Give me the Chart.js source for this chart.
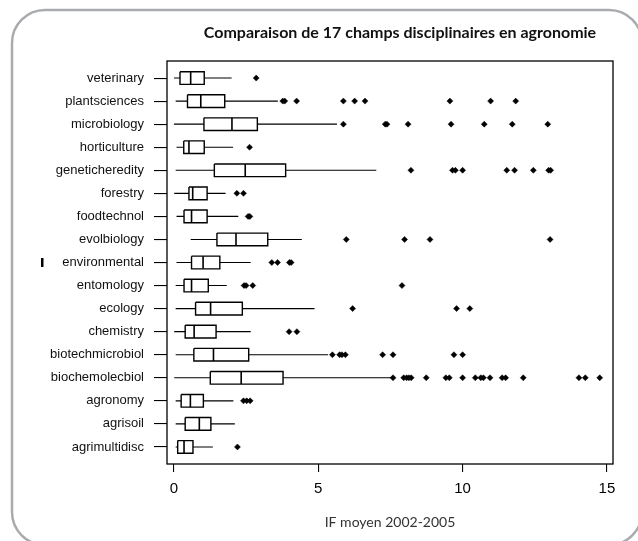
<!DOCTYPE html>
<html>
<head>
<meta charset="utf-8">
<script src="https://cdn.jsdelivr.net/npm/chart.js@4/dist/chart.umd.min.js"></script>
<style>
html,body{margin:0;padding:0;background:#fff;}
#wrap{position:relative;width:638px;height:541px;}
</style>
</head>
<body>
<div id="wrap"><canvas id="c" width="638" height="541"></canvas></div>
<script>
// ---- data ----
const categories = ['veterinary','plantsciences','microbiology','horticulture','geneticheredity','forestry','foodtechnol','evolbiology','environmental','entomology','ecology','chemistry','biotechmicrobiol','biochemolecbiol','agronomy','agrisoil','agrimultidisc'];
const whiskerLow  = [0.00, 0.06, 0.00, 0.09, 0.06, 0.01, 0.09, 0.58, 0.09, 0.06, 0.06, 0.01, 0.06, 0.01, 0.06, 0.06, 0.06];
const q1          = [0.21, 0.47, 1.04, 0.34, 1.40, 0.52, 0.35, 1.49, 0.61, 0.35, 0.75, 0.39, 0.69, 1.26, 0.25, 0.39, 0.13];
const median      = [0.58, 0.93, 2.01, 0.52, 2.47, 0.65, 0.61, 2.15, 1.01, 0.61, 1.27, 0.70, 1.37, 2.33, 0.57, 0.88, 0.35];
const q3          = [1.05, 1.76, 2.89, 1.05, 3.87, 1.15, 1.15, 3.25, 1.59, 1.19, 2.37, 1.46, 2.59, 3.78, 1.02, 1.28, 0.66];
const whiskerHigh = [2.00, 3.60, 5.65, 2.05, 7.01, 1.79, 2.23, 4.43, 2.66, 1.83, 4.87, 2.66, 5.34, 7.52, 2.06, 2.11, 1.35];
const outliers = [
  [2.85],
  [3.77, 3.84, 4.25, 5.87, 6.26, 6.62, 9.56, 10.97, 11.84],
  [5.87, 7.32, 7.38, 8.11, 9.60, 10.75, 11.72, 12.95],
  [2.62],
  [8.21, 9.65, 9.75, 10.00, 11.53, 11.80, 12.45, 12.98, 13.05],
  [2.18, 2.41],
  [2.57, 2.63],
  [5.97, 7.99, 8.87, 13.03],
  [3.39, 3.59, 4.00, 4.06],
  [2.43, 2.50, 2.73, 7.90],
  [6.19, 9.79, 10.25],
  [3.99, 4.26],
  [5.49, 5.74, 5.82, 5.94, 7.23, 7.59, 9.70, 10.00],
  [7.59, 7.96, 8.06, 8.14, 8.22, 8.74, 9.42, 9.54, 10.00, 10.44, 10.63, 10.72, 10.95, 11.37, 11.49, 12.10, 14.03, 14.25, 14.75],
  [2.41, 2.52, 2.64],
  [],
  [2.20]
];
const xTicks = [0, 5, 10, 15];
const titleText = 'Comparaison de 17 champs disciplinaires en agronomie';
const xTitleText = 'IF moyen 2002-2005';

// ---- build datasets ----
const half = 0.275;
const GAP = {x: null, y: null};
const whiskerPts = [], boxPts = [], medPts = [], outPts = [];
categories.forEach((c, i) => {
  whiskerPts.push({x: whiskerLow[i], y: i}, {x: q1[i], y: i}, GAP, {x: q3[i], y: i}, {x: whiskerHigh[i], y: i}, GAP);
  boxPts.push({x: q1[i], y: i - half}, {x: q3[i], y: i - half}, {x: q3[i], y: i + half}, {x: q1[i], y: i + half}, {x: q1[i], y: i - half}, GAP);
  medPts.push({x: median[i], y: i - half}, {x: median[i], y: i + half}, GAP);
  outliers[i].forEach(v => outPts.push({x: v, y: i}));
});

const framePlugin = {
  id: 'frame',
  beforeDraw(chart) {
    const ctx = chart.ctx;
    ctx.save();
    ctx.fillStyle = '#fff';
    ctx.fillRect(0, 0, chart.width, chart.height);
    ctx.strokeStyle = '#a9abae';
    ctx.lineWidth = 2.5;
    ctx.beginPath();
    ctx.roundRect(12, 10, 630, 535, 33);
    ctx.stroke();
    // stray mark left of "environmental"
    ctx.fillStyle = '#000';
    ctx.fillRect(41, 258, 2.5, 9);
    ctx.restore();
  },
  afterDraw(chart) {
    const ctx = chart.ctx, a = chart.chartArea;
    ctx.save();
    ctx.strokeStyle = '#000';
    ctx.lineWidth = 1.3;
    ctx.strokeRect(a.left, a.top, a.right - a.left, a.bottom - a.top);
    ctx.fillStyle = '#111';
    ctx.font = 'bold 16px Lato';
    ctx.textAlign = 'center';
    ctx.textBaseline = 'middle';
    ctx.fillText(titleText, 400, 33);
    ctx.restore();
  }
};

new Chart(document.getElementById('c'), {
  type: 'scatter',
  data: {
    datasets: [
      {data: whiskerPts, showLine: true, spanGaps: false, borderColor: '#000', borderWidth: 1.1, pointRadius: 0, order: 3},
      {data: boxPts, showLine: true, spanGaps: false, borderColor: '#000', borderWidth: 1.4, pointRadius: 0, order: 2},
      {data: medPts, showLine: true, spanGaps: false, borderColor: '#000', borderWidth: 1.6, pointRadius: 0, order: 1},
      {data: outPts, showLine: false, pointStyle: 'rectRot', pointRadius: 3, backgroundColor: '#000', borderColor: '#000', borderWidth: 0.5, order: 0}
    ]
  },
  options: {
    responsive: false,
    animation: false,
    events: [],
    layout: {padding: {left: 0, right: 25, top: 61, bottom: 0}},
    plugins: {legend: {display: false}, tooltip: {enabled: false}, title: {display: false}},
    scales: {
      x: {
        type: 'linear', min: -0.24, max: 15.21,
        afterFit(s) { s.height = 77; },
        afterBuildTicks(s) { s.ticks = xTicks.map(v => ({value: v})); },
        border: {display: false},
        grid: {display: true, drawOnChartArea: false, drawTicks: true, tickLength: 8, color: '#000', lineWidth: 1.1},
        ticks: {stepSize: 5, includeBounds: false, padding: 8, color: '#000', font: {family: 'Liberation Sans, Arial', size: 15}},
        title: {display: true, text: xTitleText, color: '#333', font: {family: 'Lato', size: 14}, padding: {top: 0, bottom: 10}}
      },
      y: {
        type: 'linear', min: -0.74, max: 16.74, reverse: true,
        afterFit(s) { s.width = 167; },
        afterBuildTicks(s) { s.ticks = categories.map((c, i) => ({value: i})); },
        border: {display: false},
        grid: {display: true, drawOnChartArea: false, drawTicks: true, tickLength: 13, color: '#000', lineWidth: 1.1},
        ticks: {autoSkip: false, padding: 10, color: '#111', font: {family: 'Liberation Sans, Arial', size: 13},
                callback: (v) => categories[v]}
      }
    }
  },
  plugins: [framePlugin]
});
</script>
</body>
</html>
